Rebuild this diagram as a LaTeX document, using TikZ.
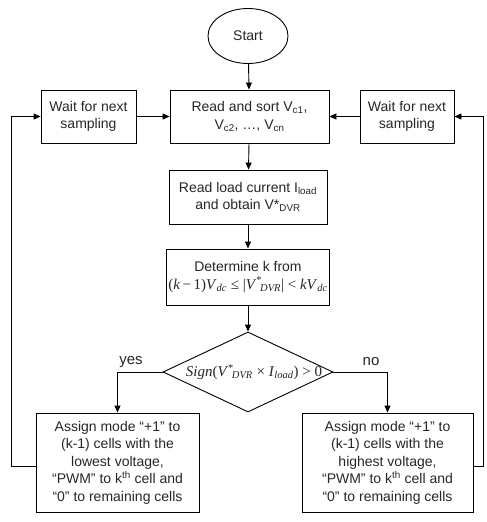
\documentclass[tikz,border=0pt]{standalone}
\usepackage{fontspec}
\setmainfont{Liberation Sans}
\newfontfamily\tms{Liberation Serif}
\usetikzlibrary{shapes.geometric,arrows.meta}
\begin{document}
\begin{tikzpicture}[x=1pt,y=-1pt,
  every node/.style={font=\fontsize{14}{17.5}\selectfont, text=black!85},
  box/.style={draw, line width=0.9pt, align=center, inner sep=2pt},
  arr/.style={draw, line width=0.9pt, -{Triangle[length=7pt,width=6pt]}},
  lbl/.style={font=\fontsize{15}{18}\selectfont}]
\useasboundingbox (0,0) rectangle (487,522);
\node[ellipse, draw, line width=0.9pt, minimum width=80pt, minimum height=55pt, inner sep=0pt] (start) at (248,36) {Start};
\node[box, minimum width=159pt, minimum height=53pt] (read) at (249.5,116.5) {Read and sort V\textsubscript{c1},\\V\textsubscript{c2}, \dots, V\textsubscript{cn}};
\node[box, minimum width=95pt, minimum height=53pt] (waitL) at (88.5,116.5) {Wait for next\\sampling};
\node[box, minimum width=94pt, minimum height=53pt] (waitR) at (407,116.5) {Wait for next\\sampling};
\node[box, minimum width=158pt, minimum height=54pt] (load) at (248,197) {Read load current I\textsubscript{load}\\and obtain V*\textsubscript{DVR}};
\node[box, minimum width=160pt, minimum height=56pt] (det) at (248,277) {Determine k from\\{\tms\fontsize{15}{18}\selectfont (\textit{k}\,−\,1)\textit{V}\textsubscript{\textit{dc}} ≤ \textbar\textit{V}\textsuperscript{*}\kern-2pt\textsubscript{\textit{DVR}}\textbar\ < \textit{kV}\textsubscript{\textit{dc}}}};
\node[diamond, draw, line width=0.9pt, minimum width=170pt, minimum height=80pt, inner sep=0pt] (dec) at (248,372) {};
\node[font=\tms\fontsize{15}{18}\selectfont] (dectext) at (254,372) {\textit{Sign}(\textit{V}\textsuperscript{*}\kern-2pt\textsubscript{\textit{DVR}} × \textit{I}\textsubscript{\textit{load}}) > 0};
\node[box, minimum width=163pt, minimum height=99pt] (boxL) at (117.5,462.5) {Assign mode ``+1'' to\\(k-1) cells with the\\lowest voltage,\\``PWM'' to k\textsuperscript{th} cell and\\``0'' to remaining cells};
\node[box, minimum width=171pt, minimum height=99pt] (boxR) at (387.5,462.5) {Assign mode ``+1'' to\\(k-1) cells with the\\highest voltage,\\``PWM'' to k\textsuperscript{th} cell and\\``0'' to remaining cells};
\node[lbl] (yes) at (131,362) {yes};
\node[lbl] (no) at (371,362) {no};
\draw[arr] (start) -- (read);
\draw[arr] (waitL) -- (read);
\draw[arr] (waitR) -- (read);
\draw[arr] (read) -- (load);
\draw[arr] (load) -- (det);
\draw[arr] (det) -- (dec);
\draw[arr] (dec.west) -| (boxL.north);
\draw[arr] (dec.east) -| (boxR.north);
\draw[arr] ([yshift=-4pt]boxL.west) -- ++(-24,0) |- (waitL.west);
\draw[arr] ([yshift=-4pt]boxR.east) -- ++(10,0) |- (waitR.east);
\end{tikzpicture}
\end{document}
